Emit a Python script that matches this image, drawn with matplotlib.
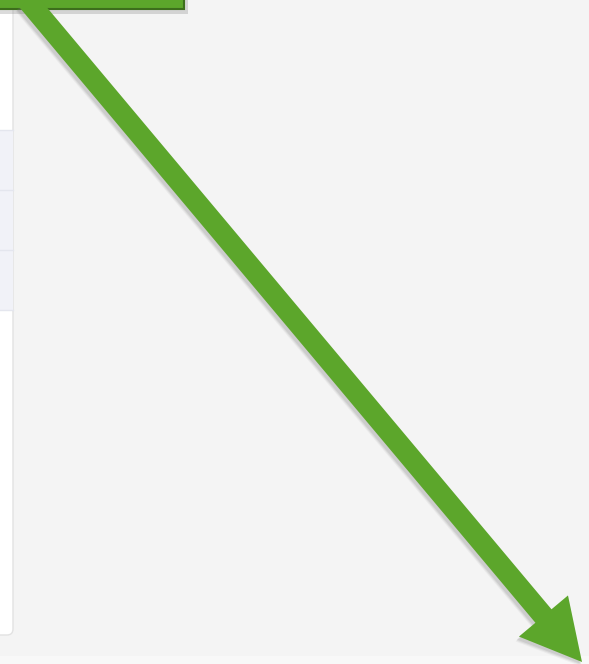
import matplotlib
matplotlib.use("Agg")
import matplotlib.pyplot as plt
from matplotlib.patches import FancyArrow, FancyBboxPatch, Rectangle

# Arrow annotation (pixel coordinates of the screenshot)
arrow_start = [27, 0]
arrow_end = [582, 662]
arrow_shaft = 21
arrow_head_w = 64
arrow_head_l = 60

# Side panel row separators (y positions)
panel_rows = [130, 190, 250, 310]

bg_color = "#f4f4f4"
green = "#5ca62b"

fig = plt.figure(figsize=(5.89, 6.64), dpi=100)
fig.patch.set_facecolor(bg_color)
ax = fig.add_axes([0, 0, 1, 1])
ax.set_xlim(0, 589)
ax.set_ylim(664, 0)
ax.set_facecolor(bg_color)
ax.axis("off")

# white side panel on the left
panel = FancyBboxPatch((-20, -20), 33, 655, boxstyle="round,pad=0,rounding_size=6",
                       facecolor="white", edgecolor="#e2e2e2", linewidth=1.0)
ax.add_patch(panel)
ax.add_patch(Rectangle((-20, panel_rows[0]), 33, panel_rows[-1] - panel_rows[0],
                       facecolor="#f1f2f8", edgecolor="none"))
for yy in panel_rows:
    ax.plot([-20, 13], [yy, yy], color="#e4e6ee", lw=1)

# bottom strip
ax.add_patch(Rectangle((0, 656), 589, 10, facecolor="#f8f8f8", edgecolor="none"))

# green callout box at the top with shadow
ax.add_patch(Rectangle((-4, -10), 192, 24, facecolor="#888888", alpha=0.3, edgecolor="none"))
ax.add_patch(Rectangle((-6, -12), 190, 21, facecolor=green, edgecolor="#3d6e1c", linewidth=1.5))

# arrow shadow then arrow
dx = arrow_end[0] - arrow_start[0]
dy = arrow_end[1] - arrow_start[1]
for off, a in [(4, 0.08), (3, 0.12), (2, 0.15)]:
    ax.add_patch(FancyArrow(arrow_start[0] - off / 2, arrow_start[1] + off, dx, dy,
                            width=arrow_shaft + 3, head_width=arrow_head_w + 3,
                            head_length=arrow_head_l, length_includes_head=True,
                            facecolor="#777777", edgecolor="none", alpha=a))
ax.add_patch(FancyArrow(arrow_start[0], arrow_start[1], dx, dy,
                        width=arrow_shaft, head_width=arrow_head_w,
                        head_length=arrow_head_l, length_includes_head=True,
                        facecolor=green, edgecolor="none"))

fig.savefig("out.png", dpi=100, facecolor=fig.get_facecolor())
